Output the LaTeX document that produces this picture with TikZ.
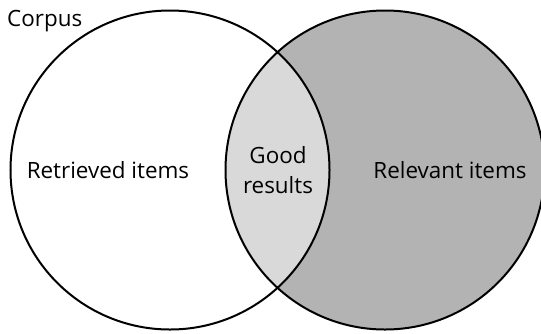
\documentclass[tikz,border=0pt]{standalone}
\usepackage{fontspec}
\setmainfont{Open Sans}
\begin{document}
\begin{tikzpicture}[x=1bp,y=-1bp,
  setcircle/.style={circle,draw=black,line width=2bp,minimum size=319bp,inner sep=0pt},
  txt/.style={font=\fontsize{22.5}{30}\selectfont,text=black,align=center,inner sep=0pt}]
  \useasboundingbox (0,0) rectangle (541,333);
  \clip (0,0) rectangle (541,333);
  % relevant set, shaded
  \fill[fill={rgb,255:red,179;green,179;blue,179}] (385,170) circle[radius=159.5bp];
  % overlap of the two sets
  \begin{scope}
    \clip (170,170) circle[radius=159.5bp];
    \fill[fill={rgb,255:red,217;green,217;blue,217}] (385,170) circle[radius=159.5bp];
  \end{scope}
  \node[setcircle] (retrieved) at (170,170) {};
  \node[setcircle] (relevant) at (385,170) {};
  \node[txt,anchor=base west] (corpus) at (7,26) {Corpus};
  \node[txt] (ret) at (108,170) {Retrieved items};
  \node[txt] (rel) at (450,170) {Relevant items};
  \node[txt] (good) at (278,170) {Good\\results};
\end{tikzpicture}
\end{document}
